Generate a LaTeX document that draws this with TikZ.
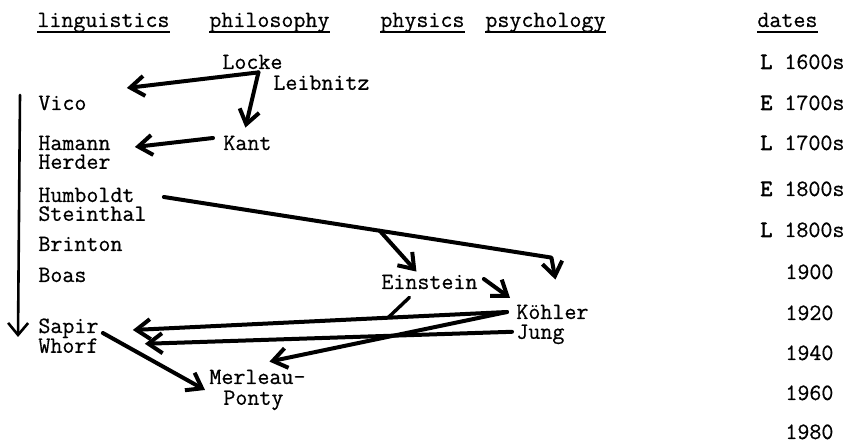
\documentclass[tikz,border=0pt]{standalone}
\usepackage{fontspec}
\setmonofont{Latin Modern Mono}[FakeBold=0.6]
\newfontfamily\datesbold{Latin Modern Mono}[FakeBold=2.5]
\usetikzlibrary{arrows.meta, positioning, calc}

\begin{document}
\begin{tikzpicture}[
    x=0.5pt, y=-0.5pt,
    font=\ttfamily\fontsize{11.66}{13}\selectfont,
    person/.style={inner sep=0pt, anchor=west, text height=7pt, text depth=0pt},
    header/.style={person},
    hdrline/.style={line width=0.9pt},
    arrow/.style={-{Straight Barb[length=7pt, width=10pt]}, line width=2pt, line cap=round, line join=round},
    link/.style={line width=1.7pt, line cap=round},
    timeline/.style={-{Straight Barb[length=6pt, width=10pt]}, line width=1.3pt, line cap=round, line join=round}
]
\useasboundingbox (0,0) rectangle (846,442);

% column headers
\node[header] (hLing) at (37,20) {linguistics};
\node[header] (hPhil) at (209,20) {philosophy};
\node[header] (hPhys) at (380,20) {physics};
\node[header] (hPsych) at (485,20) {psychology};
\node[header] (hDates) at (757,20) {dates};
\draw[hdrline] ([yshift=-2.5pt]hLing.south west) -- ([yshift=-2.5pt]hLing.south east);
\draw[hdrline] ([yshift=-2.5pt]hPhil.south west) -- ([yshift=-2.5pt]hPhil.south east);
\draw[hdrline] ([yshift=-2.5pt]hPhys.south west) -- ([yshift=-2.5pt]hPhys.south east);
\draw[hdrline] ([yshift=-2.5pt]hPsych.south west) -- ([yshift=-2.5pt]hPsych.south east);
\draw[hdrline] ([yshift=-2.5pt]hDates.south west) -- ([yshift=-2.5pt]hDates.south east);

% thinkers
\node[person] (Locke) at (222,62) {Locke};
\node[person, below right=3pt and 25.5pt of Locke.south west] (Leibnitz) {Leibnitz};
\node[person] (Vico) at (38,103) {Vico};
\node[person] (Hamann) at (38,143) {Hamann};
\node[person, below right=2pt and 0pt of Hamann.south west] (Herder) {Herder};
\node[person] (Kant) at (223,143) {Kant};
\node[person] (Humboldt) at (38,195) {Humboldt};
\node[person, below right=2pt and 0pt of Humboldt.south west] (Steinthal) {Steinthal};
\node[person] (Brinton) at (38,244) {Brinton};
\node[person] (Boas) at (38,275) {Boas};
\node[person] (Einstein) at (381,282) {Einstein};
\node[person] (Kohler) at (516,312) {Köhler};
\node[person, below right=2.5pt and 0pt of Kohler.south west] (Jung) {Jung};
\node[person] (Sapir) at (38,326) {Sapir};
\node[person, below right=2.5pt and 0pt of Sapir.south west] (Whorf) {Whorf};
\node[person] (Merleau) at (209,377) {Merleau-};
\node[person, below right=3pt and 7pt of Merleau.south west] (Ponty) {Ponty};

% dates
\node[person] (d1600l) at (760,62) {{\datesbold L} 1600s};
\node[person] (d1700e) at (760,103) {{\datesbold E} 1700s};
\node[person] (d1700l) at (760,143) {{\datesbold L} 1700s};
\node[person] (d1800e) at (760,189) {{\datesbold E} 1800s};
\node[person] (d1800l) at (760,230) {{\datesbold L} 1800s};
\node[person] (d1900) at (785,272) {1900};
\node[person] (d1920) at (785,313) {1920};
\node[person] (d1940) at (785,353) {1940};
\node[person] (d1960) at (785,393) {1960};
\node[person] (d1980) at (785,432) {1980};

% influences
\coordinate (lockeFork) at ([xshift=3pt, yshift=-1.5pt]Locke.south);
\draw[arrow] (lockeFork) -- ([xshift=20pt, yshift=7.5pt]Vico.east);
\draw[arrow] (lockeFork) -- ([xshift=-1pt, yshift=4pt]Kant.north);
\draw[arrow] ([xshift=-5pt, yshift=2.5pt]Kant.west) -- ([xshift=12pt, yshift=-2pt]Hamann.east);
\draw[timeline] ([xshift=-9pt, yshift=4pt]Vico.west) -- ([xshift=-10pt, yshift=-5.5pt]Sapir.west);

\coordinate (humStart) at ([xshift=14.5pt, yshift=-1pt]Humboldt.east);
\coordinate (humBend) at ([xshift=-0.5pt, yshift=23.5pt]Kohler.north);
\coordinate (humFork) at ($(humStart)!0.557!(humBend)$);
\draw[arrow] (humStart) -- (humBend) -- ([xshift=1.5pt, yshift=12.5pt]Kohler.north);
\draw[arrow] (humFork) -- ([xshift=-6.5pt, yshift=1.5pt]Einstein.north);
\draw[arrow] ([xshift=3pt, yshift=1.5pt]Einstein.east) -- ([xshift=-3pt, yshift=7pt]Kohler.west);

\coordinate (kohlerOut) at ([xshift=-4.5pt]Kohler.west);
\coordinate (sapirIn) at ([xshift=17pt, yshift=-2pt]Sapir.east);
\coordinate (sapirJoin) at ($(kohlerOut)!0.318!(sapirIn)$);
\draw[arrow] (kohlerOut) -- (sapirIn);
\draw[link] ([xshift=-10pt, yshift=-4pt]Einstein.south) -- (sapirJoin);
\draw[arrow] ([xshift=-2pt]Jung.west) -- ([xshift=23pt, yshift=1pt]Whorf.east);
\draw[arrow] (kohlerOut) -- ([xshift=6pt, yshift=4pt]Merleau.north);
\draw[arrow] ([xshift=2pt, yshift=-3.5pt]Sapir.east) -- ([xshift=-2pt, yshift=-6.5pt]Merleau.west);
\end{tikzpicture}
\end{document}
